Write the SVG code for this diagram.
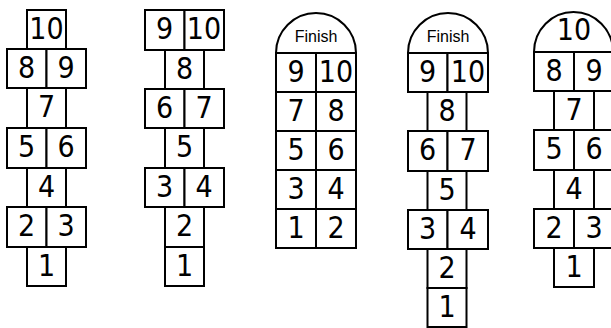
<svg xmlns="http://www.w3.org/2000/svg" width="611" height="328" viewBox="0 0 611 328">
<style>
.c{fill:#fff;stroke:#000;stroke-width:2}
text{font-family:"Liberation Sans Narrow","DejaVu Sans Condensed","Liberation Sans",Arial,sans-serif;font-size:30px;text-anchor:middle;fill:#000}
.f{font-family:"Liberation Sans",Arial,sans-serif;font-size:16px}
</style>
<rect width="611" height="328" fill="#fff"/>
<g id="hopscotch1">
<g id="h1-10"><rect class="c" x="27" y="10" width="39" height="39"/><text x="46.5" y="39">10</text></g>
<g id="h1-8"><rect class="c" x="7" y="49" width="39.5" height="39"/><text x="26.5" y="78">8</text></g>
<g id="h1-9"><rect class="c" x="46.5" y="49" width="39.5" height="39"/><text x="66" y="78">9</text></g>
<g id="h1-7"><rect class="c" x="27" y="88" width="39" height="40"/><text x="46.5" y="117">7</text></g>
<g id="h1-5"><rect class="c" x="7" y="128" width="39.5" height="40"/><text x="26.5" y="157">5</text></g>
<g id="h1-6"><rect class="c" x="46.5" y="128" width="39.5" height="40"/><text x="66" y="157">6</text></g>
<g id="h1-4"><rect class="c" x="27" y="168" width="39" height="39"/><text x="46.5" y="197">4</text></g>
<g id="h1-2"><rect class="c" x="7" y="207" width="39.5" height="40"/><text x="26.5" y="236">2</text></g>
<g id="h1-3"><rect class="c" x="46.5" y="207" width="39.5" height="40"/><text x="66" y="236">3</text></g>
<g id="h1-1"><rect class="c" x="27" y="247" width="39" height="39"/><text x="46.5" y="276">1</text></g>
</g>
<g id="hopscotch2">
<g id="h2-9"><rect class="c" x="145" y="10" width="39.5" height="40"/><text x="164.5" y="39">9</text></g>
<g id="h2-10"><rect class="c" x="184.5" y="10" width="39.5" height="40"/><text x="204" y="39">10</text></g>
<g id="h2-8"><rect class="c" x="165" y="50" width="39" height="39"/><text x="184.5" y="79">8</text></g>
<g id="h2-6"><rect class="c" x="145" y="89" width="39.5" height="39"/><text x="164.5" y="118">6</text></g>
<g id="h2-7"><rect class="c" x="184.5" y="89" width="39.5" height="39"/><text x="204" y="118">7</text></g>
<g id="h2-5"><rect class="c" x="165" y="128" width="39" height="40"/><text x="184.5" y="157">5</text></g>
<g id="h2-3"><rect class="c" x="145" y="168" width="39.5" height="39"/><text x="164.5" y="197">3</text></g>
<g id="h2-4"><rect class="c" x="184.5" y="168" width="39.5" height="39"/><text x="204" y="197">4</text></g>
<g id="h2-2"><rect class="c" x="165" y="207" width="39" height="40"/><text x="184.5" y="236">2</text></g>
<g id="h2-1"><rect class="c" x="165" y="247" width="39" height="39"/><text x="184.5" y="276">1</text></g>
</g>
<g id="hopscotch3">
<g id="h3-finish"><path class="c" d="M276 53A40 40 0 0 1 356 53Z"/><text class="f" x="316" y="42">Finish</text></g>
<g id="h3-9"><rect class="c" x="276" y="53" width="40" height="39"/><text x="296" y="82">9</text></g>
<g id="h3-10"><rect class="c" x="316" y="53" width="40" height="39"/><text x="336" y="82">10</text></g>
<g id="h3-7"><rect class="c" x="276" y="92" width="40" height="39"/><text x="296" y="121">7</text></g>
<g id="h3-8"><rect class="c" x="316" y="92" width="40" height="39"/><text x="336" y="121">8</text></g>
<g id="h3-5"><rect class="c" x="276" y="131" width="40" height="39"/><text x="296" y="160">5</text></g>
<g id="h3-6"><rect class="c" x="316" y="131" width="40" height="39"/><text x="336" y="160">6</text></g>
<g id="h3-3"><rect class="c" x="276" y="170" width="40" height="39"/><text x="296" y="199">3</text></g>
<g id="h3-4"><rect class="c" x="316" y="170" width="40" height="39"/><text x="336" y="199">4</text></g>
<g id="h3-1"><rect class="c" x="276" y="209" width="40" height="39"/><text x="296" y="238">1</text></g>
<g id="h3-2"><rect class="c" x="316" y="209" width="40" height="39"/><text x="336" y="238">2</text></g>
</g>
<g id="hopscotch4">
<g id="h4-finish"><path class="c" d="M408 53A40 40 0 0 1 488 53Z"/><text class="f" x="448" y="42">Finish</text></g>
<g id="h4-9"><rect class="c" x="408" y="53" width="39.5" height="39"/><text x="427.5" y="82">9</text></g>
<g id="h4-10"><rect class="c" x="447.5" y="53" width="40.5" height="39"/><text x="468" y="82">10</text></g>
<g id="h4-8"><rect class="c" x="427.5" y="92" width="39" height="39"/><text x="447" y="121">8</text></g>
<g id="h4-6"><rect class="c" x="408" y="131" width="39.5" height="40"/><text x="427.5" y="160">6</text></g>
<g id="h4-7"><rect class="c" x="447.5" y="131" width="40.5" height="40"/><text x="468" y="160">7</text></g>
<g id="h4-5"><rect class="c" x="427.5" y="171" width="39" height="39"/><text x="447" y="200">5</text></g>
<g id="h4-3"><rect class="c" x="408" y="210" width="39.5" height="39"/><text x="427.5" y="239">3</text></g>
<g id="h4-4"><rect class="c" x="447.5" y="210" width="40.5" height="39"/><text x="468" y="239">4</text></g>
<g id="h4-2"><rect class="c" x="427.5" y="249" width="39" height="39"/><text x="447" y="278">2</text></g>
<g id="h4-1"><rect class="c" x="427.5" y="288" width="39" height="39"/><text x="447" y="317">1</text></g>
</g>
<g id="hopscotch5">
<g id="h5-10"><path class="c" d="M534 52A39.5 40 0 0 1 613 52Z"/><text x="574" y="40">10</text></g>
<g id="h5-8"><rect class="c" x="534" y="52" width="40" height="39"/><text x="554" y="81">8</text></g>
<g id="h5-9"><rect class="c" x="574" y="52" width="39" height="39"/><text x="594" y="81">9</text></g>
<g id="h5-7"><rect class="c" x="554" y="91" width="40" height="39"/><text x="574" y="120">7</text></g>
<g id="h5-5"><rect class="c" x="534" y="130" width="40" height="40"/><text x="554" y="159">5</text></g>
<g id="h5-6"><rect class="c" x="574" y="130" width="39" height="40"/><text x="594" y="159">6</text></g>
<g id="h5-4"><rect class="c" x="554" y="170" width="40" height="39"/><text x="574" y="199">4</text></g>
<g id="h5-2"><rect class="c" x="534" y="209" width="40" height="39"/><text x="554" y="238">2</text></g>
<g id="h5-3"><rect class="c" x="574" y="209" width="39" height="39"/><text x="594" y="238">3</text></g>
<g id="h5-1"><rect class="c" x="554" y="248" width="40" height="39"/><text x="574" y="277">1</text></g>
</g>
</svg>
